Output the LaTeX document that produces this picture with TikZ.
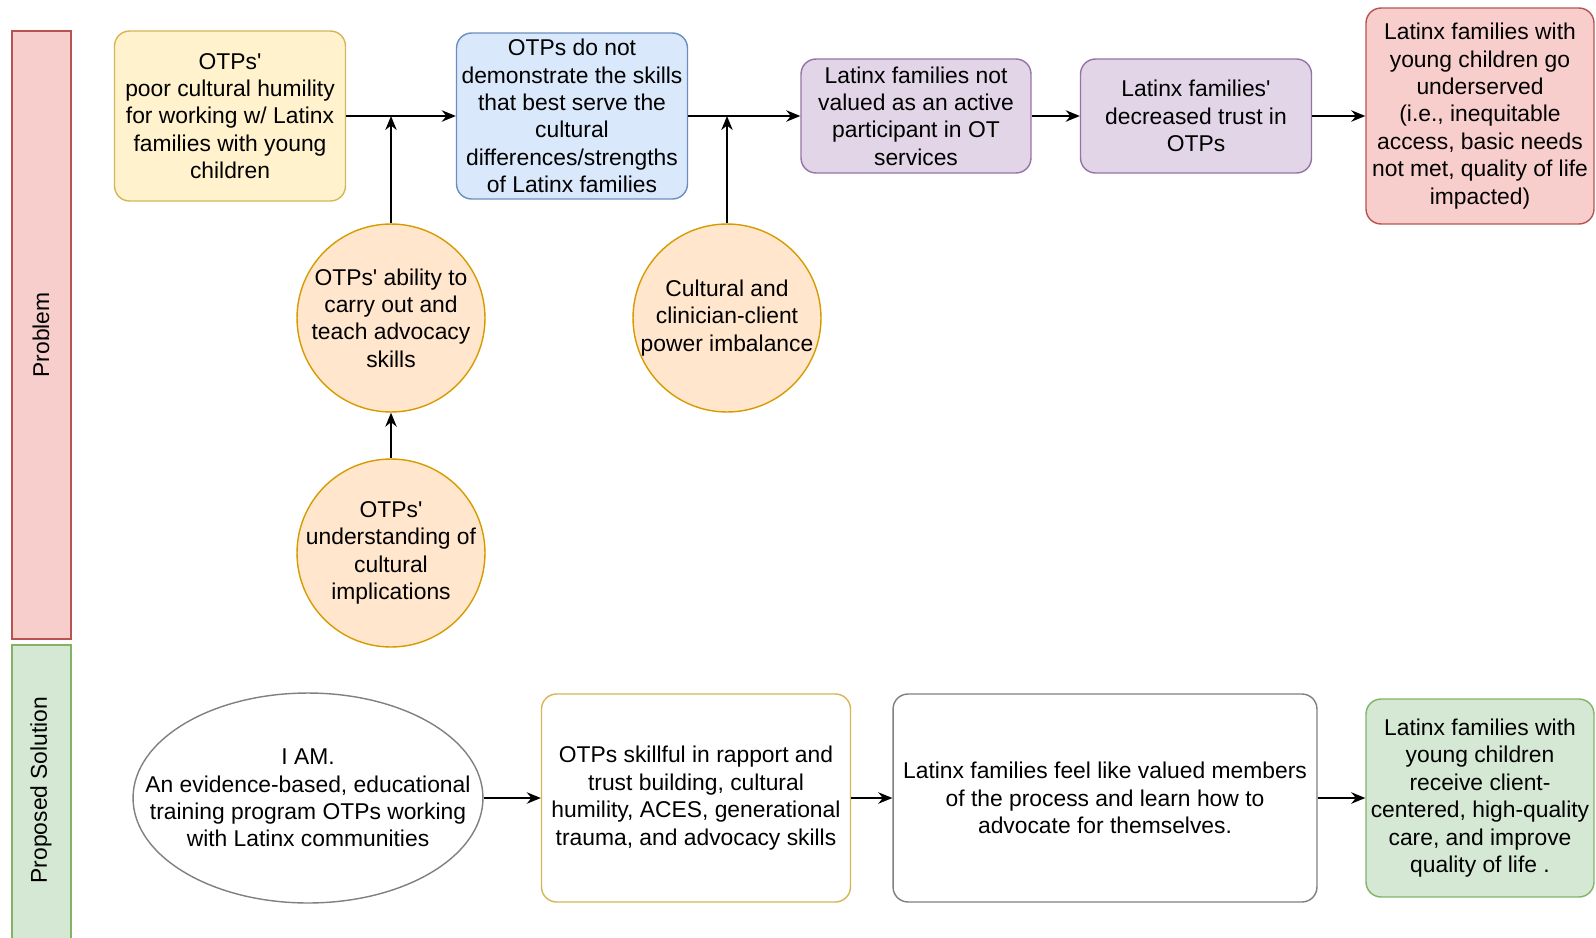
\documentclass[tikz,border=0pt]{standalone}
\usepackage{fontspec}
\setmainfont{Liberation Sans}
\usetikzlibrary{shapes.geometric,arrows.meta}
\definecolor{yelfill}{HTML}{FFF2CC}
\definecolor{yelline}{HTML}{D6B656}
\definecolor{bluefill}{HTML}{DAE8FC}
\definecolor{blueline}{HTML}{6C8EBF}
\definecolor{purpfill}{HTML}{E1D5E7}
\definecolor{purpline}{HTML}{9673A6}
\definecolor{redfill}{HTML}{F8CECC}
\definecolor{redline}{HTML}{B85450}
\definecolor{orafill}{HTML}{FFE6CC}
\definecolor{oraline}{HTML}{D79B00}
\definecolor{grnfill}{HTML}{D5E8D4}
\definecolor{grnline}{HTML}{82B366}
\newcommand\ap{\textquotesingle}

\begin{document}
\begin{tikzpicture}[x=0.02cm,y=-0.02cm,
  every node/.style={font=\fontsize{13}{15.6}\selectfont,align=center,inner sep=2pt},
  box/.style={draw,rounded corners=0.3cm,line width=0.8pt},
  bubble/.style={circle,draw=oraline,fill=orafill,line width=0.8pt,minimum size=3.76cm},
  flow/.style={-{Stealth[length=8pt,width=6.5pt]},line width=1pt}]
\fill[white] (0,0) rectangle (1596,937);
\useasboundingbox (0,0) rectangle (1596,937);
%lanes
\draw[fill=redfill,draw=redline,line width=0.8pt] (12,31) rectangle (71,639);
\node[rotate=90] (problem) at (41,335) {Problem};
\draw[fill=grnfill,draw=grnline,line width=0.8pt] (12,645) rectangle (71,945);
\node[rotate=90] (solution) at (41,790) {Proposed Solution};
%problem
\node[box,fill=yelfill,draw=yelline,minimum width=4.62cm,minimum height=3.4cm] (humility) at (230,116)
  {OTPs\ap\\poor cultural humility\\for working w/ Latinx\\families with young\\children};
\node[box,fill=bluefill,draw=blueline,minimum width=4.62cm,minimum height=3.32cm] (skills) at (572,116)
  {OTPs do not\\demonstrate the skills\\that best serve the\\cultural\\differences/strengths\\of Latinx families};
\node[box,fill=purpfill,draw=purpline,minimum width=4.6cm,minimum height=2.28cm] (valued) at (916,116)
  {Latinx families not\\valued as an active\\participant in OT\\services};
\node[box,fill=purpfill,draw=purpline,minimum width=4.62cm,minimum height=2.28cm] (trust) at (1196,116)
  {Latinx families\ap\\decreased trust in\\OTPs};
\node[box,fill=redfill,draw=redline,minimum width=4.56cm,minimum height=4.32cm] (served) at (1480,116)
  {Latinx families with\\young children go\\underserved\\(i.e., inequitable\\access, basic needs\\not met, quality of life\\impacted)};
\node[bubble] (ability) at (391,318) {};
\node (abilitytxt) at (ability) {OTPs\ap{} ability to\\carry out and\\teach advocacy\\skills};
\node[bubble] (implic) at (391,553) {};
\node (implictxt) at (implic) {OTPs\ap\\understanding of\\cultural\\implications};
\node[bubble] (power) at (727,318) {};
\node (powertxt) at (power) {Cultural and\\clinician-client\\power imbalance};
\draw[flow] (humility.east) -- (skills.west);
\draw[flow] (ability.north) -- (ability.north |- humility.east);
\draw[flow] (implic.north) -- (ability.south);
\draw[flow] (skills.east) -- (valued.west);
\draw[flow] (power.north) -- (power.north |- skills.east);
\draw[flow] (valued.east) -- (trust.west);
\draw[flow] (trust.east) -- (served.west);
%solution
\node[ellipse,draw=gray,line width=0.8pt,minimum width=7cm,minimum height=4.2cm] (iam) at (308,798) {};
\node (iamtxt) at (iam) {I AM.\\An evidence-based, educational\\training program OTPs working\\with Latinx communities};
\node[box,draw=yelline,minimum width=6.18cm,minimum height=4.16cm] (rapport) at (696,798)
  {OTPs skillful in rapport and\\trust building, cultural\\humility, ACES, generational\\trauma, and advocacy skills};
\node[box,draw=gray,minimum width=8.48cm,minimum height=4.16cm] (members) at (1105,798)
  {Latinx families feel like valued members\\of the process and learn how to\\advocate for themselves.};
\node[box,fill=grnfill,draw=grnline,minimum width=4.56cm,minimum height=3.96cm] (care) at (1480,798)
  {Latinx families with\\young children\\receive client-\\centered, high-quality\\care, and improve\\quality of life .};
\draw[flow] (iam.east) -- (rapport.west);
\draw[flow] (rapport.east) -- (members.west);
\draw[flow] (members.east) -- (care.west);
\end{tikzpicture}
\end{document}
